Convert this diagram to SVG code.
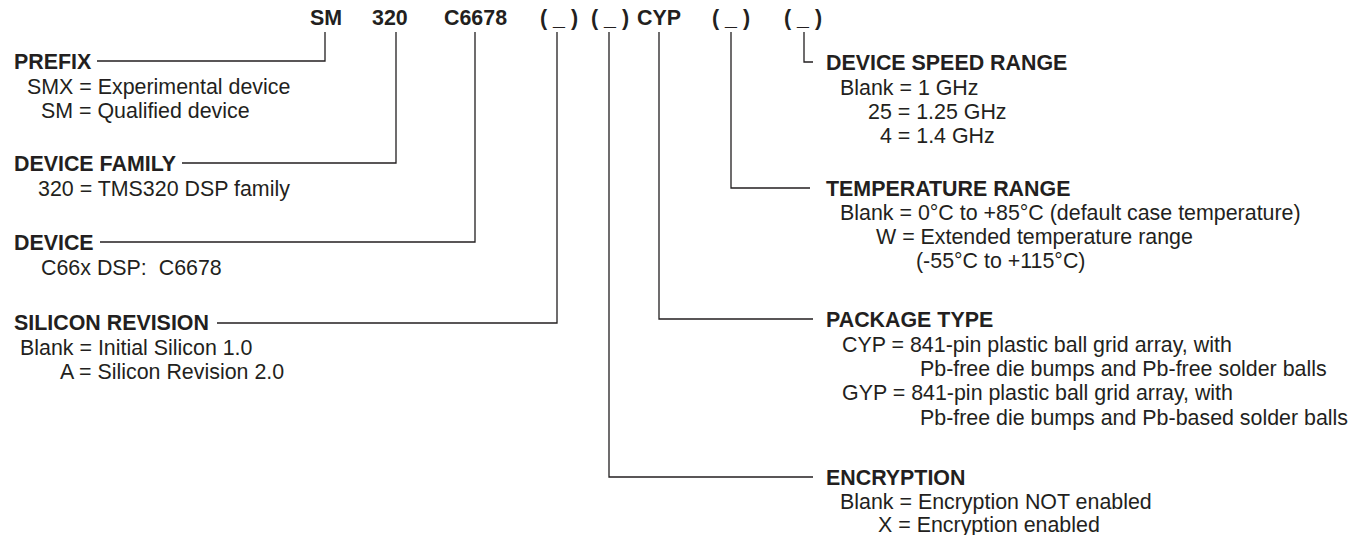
<svg xmlns="http://www.w3.org/2000/svg" width="1359" height="535" viewBox="0 0 1359 535">
<style>
text{font-family:"Liberation Sans",Arial,Helvetica,sans-serif;font-size:21.4px;fill:#231f20}
.b{font-weight:bold}
.c{fill:none;stroke:#231f20;stroke-width:1.3}
</style>
<rect width="1359" height="535" fill="#fff"/>
<g id="code">
<text class="b" x="310" y="25">SM</text>
<text class="b" x="372" y="25">320</text>
<text class="b" x="444" y="25">C6678</text>
<text class="b" x="540" y="25">( _ )</text>
<text class="b" x="591" y="25">( _ )</text>
<text class="b" x="637" y="25">CYP</text>
<text class="b" x="712" y="25">( _ )</text>
<text class="b" x="784" y="25">( _ )</text>
</g>
<g id="connectors">
<path class="c" d="M97 61H325V32"/>
<path class="c" d="M182 163H396V32"/>
<path class="c" d="M100 242H475V32"/>
<path class="c" d="M217 323H557V32"/>
<path class="c" d="M813 477H609V32"/>
<path class="c" d="M813 319H659V32"/>
<path class="c" d="M810 188H731V32"/>
<path class="c" d="M813 62H804V32"/>
</g>
<g id="prefix">
<text class="b" x="14" y="69">PREFIX</text>
<text x="27" y="94">SMX = Experimental device</text>
<text x="41" y="118">SM = Qualified device</text>
</g>
<g id="device-family">
<text class="b" x="14" y="171">DEVICE FAMILY</text>
<text x="38" y="196">320 = TMS320 DSP family</text>
</g>
<g id="device">
<text class="b" x="14" y="250">DEVICE</text>
<text x="41" y="275">C66x DSP:&#160; C6678</text>
</g>
<g id="silicon-revision">
<text class="b" x="14" y="330">SILICON REVISION</text>
<text x="20" y="355">Blank = Initial Silicon 1.0</text>
<text x="60" y="379">A = Silicon Revision 2.0</text>
</g>
<g id="speed">
<text class="b" x="826" y="70">DEVICE SPEED RANGE</text>
<text x="840" y="95">Blank = 1 GHz</text>
<text x="868" y="119">25 = 1.25 GHz</text>
<text x="880" y="143">4 = 1.4 GHz</text>
</g>
<g id="temperature">
<text class="b" x="826" y="196">TEMPERATURE RANGE</text>
<text x="840" y="220">Blank = 0°C to +85°C (default case temperature)</text>
<text x="876" y="244">W = Extended temperature range</text>
<text x="916" y="268">(-55°C to +115°C)</text>
</g>
<g id="package">
<text class="b" x="826" y="327">PACKAGE TYPE</text>
<text x="842" y="352">CYP = 841-pin plastic ball grid array, with</text>
<text x="920" y="376">Pb-free die bumps and Pb-free solder balls</text>
<text x="842" y="400">GYP = 841-pin plastic ball grid array, with</text>
<text x="920" y="425">Pb-free die bumps and Pb-based solder balls</text>
</g>
<g id="encryption">
<text class="b" x="826" y="485">ENCRYPTION</text>
<text x="840" y="509">Blank = Encryption NOT enabled</text>
<text x="878" y="532">X = Encryption enabled</text>
</g>
</svg>
